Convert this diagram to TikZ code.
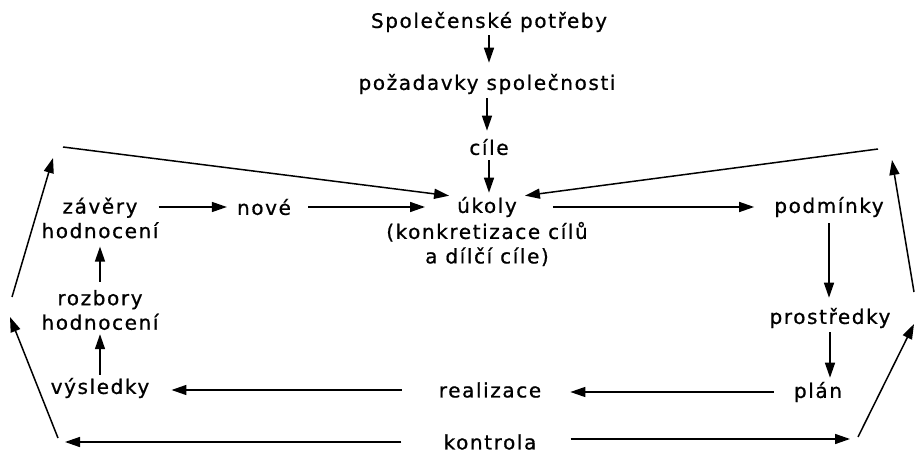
\documentclass[tikz,border=0pt]{standalone}
\usepackage{fontspec}
\setmainfont{DejaVu Sans}[LetterSpace=8,FakeBold=0.8]
\usetikzlibrary{arrows.meta}
\begin{document}
\begin{tikzpicture}[x=1pt,y=-1pt,
  lbl/.style={font=\fontsize{20}{24.5}\selectfont, inner sep=0pt, align=center},
  conn/.style={line width=1.5pt, -{Triangle[length=15pt,width=10pt]}},
]
\useasboundingbox (0,0) rectangle (916,454);

% labels
\node[lbl] (potreby)   at (489,22)  {Společenské potřeby};
\node[lbl] (pozadavky) at (487,84)  {požadavky společnosti};
\node[lbl] (cile)      at (489,147) {cíle};
\node[lbl] (ukoly)     at (487,207) {úkoly};
\node[lbl] (ukolyx)    at (487,244) {(konkretizace cílů\\a dílčí cíle)};
\node[lbl] (zavery)    at (100,218) {závěry\\hodnocení};
\node[lbl] (nove)      at (264,207) {nové};
\node[lbl] (rozbory)   at (100,310) {rozbory\\hodnocení};
\node[lbl] (vysledky)  at (100,388) {výsledky};
\node[lbl] (realizace) at (490,390) {realizace};
\node[lbl] (podminky)  at (829,207) {podmínky};
\node[lbl] (prostredky) at (830,318) {prostředky};
\node[lbl] (plan)      at (818,392) {plán};
\node[lbl] (kontrola)  at (490,442) {kontrola};

% corners of the two feedback loops
\coordinate (tl)  at (63,147);
\coordinate (mlA) at (10,317);
\coordinate (mlB) at (12,297);
\coordinate (tlA) at (53,158);
\coordinate (bl)  at (65,443);
\coordinate (blB) at (58,438);
\coordinate (tr)  at (878,149);
\coordinate (trA) at (892,160);
\coordinate (mrB) at (914,292);
\coordinate (mrA) at (914,324);
\coordinate (br)  at (850,446);
\coordinate (brB) at (858,437);

% main chain
\draw[conn, shorten <=3pt, shorten >=11pt] (potreby.south) -- (potreby.south |- pozadavky.north);
\draw[conn, shorten <=4pt, shorten >=8pt] (pozadavky.south) -- (pozadavky.south |- cile.north);
\draw[conn, shorten <=5pt, shorten >=4pt] (cile.south) -- (cile.south |- ukoly.north);
\draw[conn, shorten <=0pt, shorten >=10pt] (zavery.east |- nove) -- (nove.west);
\draw[conn, shorten <=17pt, shorten >=32pt] (nove.east) -- (ukoly.west);
\draw[conn, shorten <=36pt, shorten >=20pt] (ukoly.east) -- (podminky.west);
\draw[conn, shorten <=6pt, shorten >=10pt] (podminky.south) -- (prostredky.north -| podminky.south);
\draw[conn, shorten <=4pt, shorten >=4pt] (prostredky.south) -- (plan.north -| prostredky.south);
\draw[conn, shorten <=20pt, shorten >=29pt] (plan.west) -- (plan.west -| realizace.east);
\draw[conn, shorten <=37pt, shorten >=22pt] (realizace.west) -- (realizace.west -| vysledky.east);
\draw[conn, shorten <=3pt, shorten >=4pt] (vysledky.north) -- (rozbory.south);
\draw[conn, shorten <=8pt, shorten >=8pt] (rozbory.north) -- (zavery.south);

% left loop
\draw[conn, shorten <=42pt] (kontrola.west) -- (kontrola.west -| bl);
\draw[conn] (blB) -- (mlA);
\draw[conn] (mlB) -- (tlA);
\draw[conn, shorten >=8pt] (tl) -- (ukoly.north west);

% right loop
\draw[conn, shorten <=34pt] ([yshift=3pt]kontrola.east) -- ([yshift=3pt]kontrola.east -| br);
\draw[conn] (brB) -- (mrA);
\draw[conn] (mrB) -- (trA);
\draw[conn, shorten >=8pt] (tr) -- (ukoly.north east);
\end{tikzpicture}
\end{document}
